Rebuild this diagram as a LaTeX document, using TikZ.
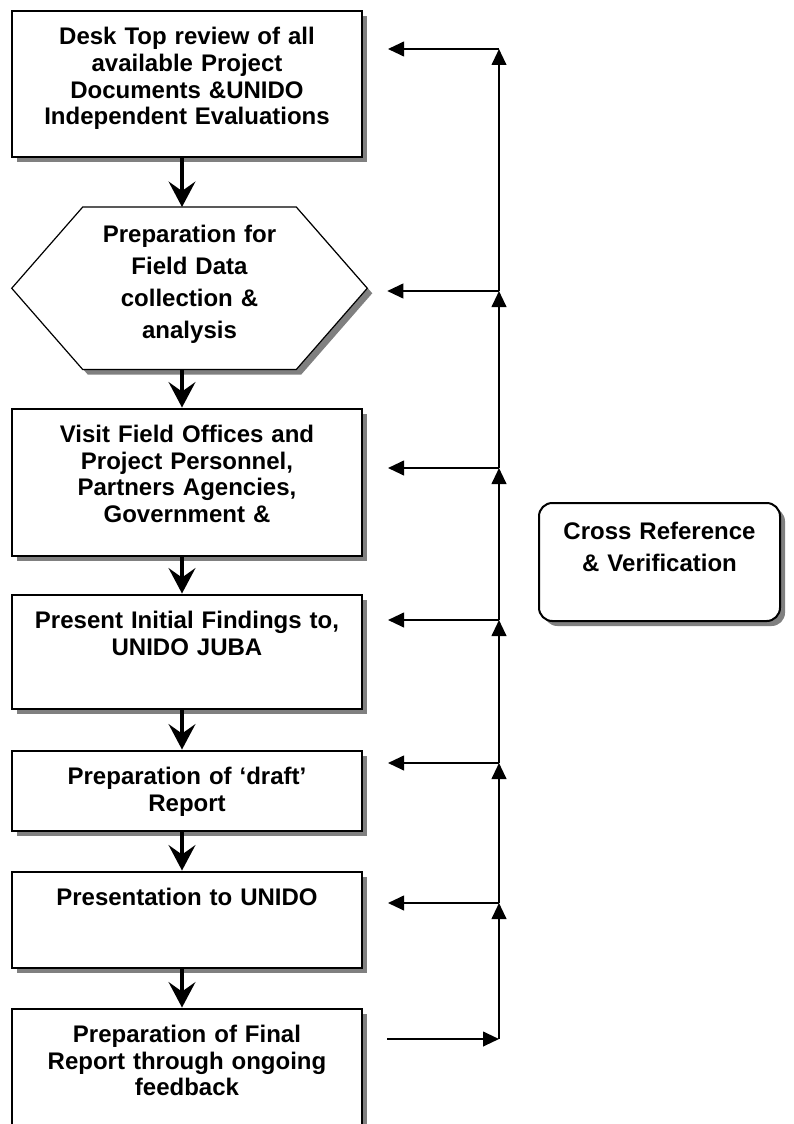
\documentclass[tikz,border=0pt]{standalone}
\usepackage{fontspec}
\setmainfont{Liberation Sans}
\usetikzlibrary{arrows.meta,positioning,shadows,backgrounds}

\begin{document}
\begin{tikzpicture}[
  x=0.75pt, y=-0.75pt,
  node distance=29.25pt,
  every node/.style={font=\bfseries\fontsize{18pt}{20pt}\selectfont},
  boxshadow/.style={drop shadow={shadow xshift=3.75pt,shadow yshift=-3.75pt,fill=black!50,opacity=1}},
  procbox/.style={draw,line width=1.5pt,fill=white,boxshadow,align=center,inner sep=0pt,text width=262.5pt,text height=25.5pt},
  hexbox/.style={align=center,inner sep=0pt,text width=266.25pt,text height=26.7pt,font=\bfseries\fontsize{18pt}{23.8pt}\selectfont},
  hexline/.style={draw,line width=0.9pt,fill=white,boxshadow},
  xrefbox/.style={draw,line width=1.5pt,rounded corners=10pt,fill=white,boxshadow,align=center,inner sep=0pt,text width=180.75pt,text height=27.5pt,text depth=61pt,font=\bfseries\fontsize{18pt}{24pt}\selectfont},
  flowarrow/.style={line width=3.5pt,-{Stealth[length=19pt,width=20pt,inset=7pt]}},
  fbarrow/.style={line width=1.5pt,-{Triangle[length=12pt,width=11pt]}}
]
\useasboundingbox (0,0) rectangle (793,1124);
\clip (0,0) rectangle (793,1124);

% process column
\node[procbox,anchor=north,text depth=84pt] (desk) at (187,10) {Desk Top review of all\\available Project\\Documents \&UNIDO\\Independent Evaluations};
\node[hexbox,below=36.75pt of desk,xshift=1.875pt,text depth=94.8pt] (prep) {Preparation for\\Field Data\\collection \&\\analysis};
\node[procbox,below=28.5pt of prep,xshift=-1.875pt,text depth=84.75pt] (visit) {Visit Field Offices and\\Project Personnel,\\Partners Agencies,\\Government \&};
\node[procbox,below=27.75pt of visit,text depth=60pt] (present) {Present Initial Findings to,\\UNIDO JUBA};
\node[procbox,below=30pt of present,text depth=34.5pt] (draft) {Preparation of ‘draft’\\Report};
\node[procbox,below=of draft,text depth=46.5pt] (unido) {Presentation to UNIDO};
\node[procbox,below=of unido,text depth=94.5pt] (final) {Preparation of Final\\Report through ongoing\\feedback};

\node[xrefbox,anchor=north] (xref) at (659.5,502) {Cross Reference\\\& Verification};

% hexagon outline
\begin{scope}[on background layer]
\draw[hexline] (prep.west) -- ([xshift=53.25pt]prep.north west) -- ([xshift=-53.25pt]prep.north east)
  -- (prep.east) -- ([xshift=-53.25pt]prep.south east) -- ([xshift=53.25pt]prep.south west) -- cycle;
\end{scope}

% main flow
\draw[flowarrow] ([xshift=-3.75pt]desk.south) -- ([xshift=-5.625pt]prep.north);
\draw[flowarrow] ([xshift=-5.625pt]prep.south) -- ([xshift=-3.75pt]visit.north);
\draw[flowarrow] ([xshift=-3.75pt]visit.south) -- ([xshift=-3.75pt]present.north);
\draw[flowarrow] ([xshift=-3.75pt]present.south) -- ([xshift=-3.75pt]draft.north);
\draw[flowarrow] ([xshift=-3.75pt]draft.south) -- ([xshift=-3.75pt]unido.north);
\draw[flowarrow] ([xshift=-3.75pt]unido.south) -- ([xshift=-3.75pt]final.north);

% feedback spine
\coordinate (j1) at (499,49);
\coordinate (j2) at (499,291);
\coordinate (j3) at (499,468);
\coordinate (j4) at (499,620);
\coordinate (j5) at (499,763);
\coordinate (j6) at (499,903);
\coordinate (j7) at (499,1039);

\draw[fbarrow,shorten <=18pt] (final.east |- j7) -- (j7);
\draw[fbarrow] (j7) -- (j6);
\draw[fbarrow] (j6) -- (j5);
\draw[fbarrow] (j5) -- (j4);
\draw[fbarrow] (j4) -- (j3);
\draw[fbarrow] (j3) -- (j2);
\draw[fbarrow] (j2) -- (j1);

\draw[fbarrow,shorten >=18.75pt] (j1) -- (desk.east |- j1);
\draw[fbarrow,shorten >=15pt] (j2) -- (prep.east |- j2);
\draw[fbarrow,shorten >=18.75pt] (j3) -- (visit.east |- j3);
\draw[fbarrow,shorten >=18.75pt] (j4) -- (present.east |- j4);
\draw[fbarrow,shorten >=18.75pt] (j5) -- (draft.east |- j5);
\draw[fbarrow,shorten >=18.75pt] (j6) -- (unido.east |- j6);
\end{tikzpicture}
\end{document}
